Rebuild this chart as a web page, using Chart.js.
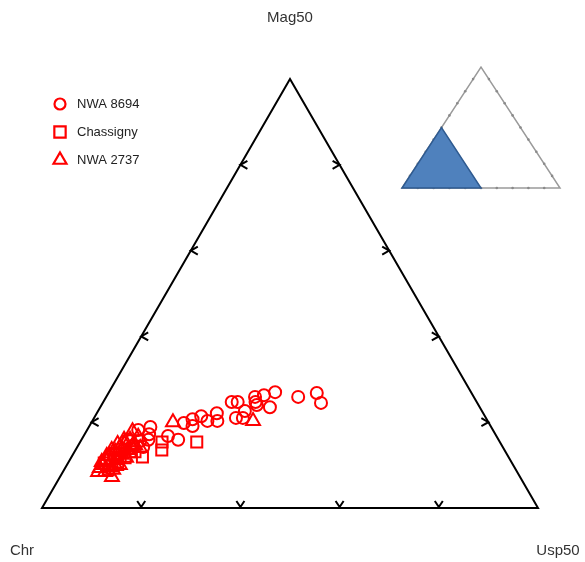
<!DOCTYPE html>
<html>
<head>
<meta charset="utf-8">
<script src="https://cdn.jsdelivr.net/npm/chart.js@4/dist/chart.umd.min.js"></script>
<style>
  html, body { margin: 0; padding: 0; background: #fff; }
  canvas { display: block; }
</style>
</head>
<body>
<canvas id="ternary" width="585" height="562"></canvas>
<script>
// Ternary compositions in percent: Mag50 and Usp50 given, Chr = 100 - Mag50 - Usp50
const nwa8694Mag = [27.0, 26.3, 25.9, 24.7, 25.9, 26.8, 24.5, 23.5, 24.0, 24.7, 24.7, 22.6, 21.0, 21.0, 22.1, 20.3, 20.3, 21.4, 20.7, 19.1, 19.8, 15.9, 16.8, 18.9, 17.2, 15.9, 15.6, 14.5, 13.5, 12.4, 14.2, 15.9, 18.2];
const nwa8694Usp = [33.5, 31.6, 30.0, 30.7, 38.7, 42.0, 44.0, 34.2, 31.3, 25.9, 27.1, 29.6, 28.6, 30.0, 24.2, 25.2, 23.2, 21.4, 20.0, 20.8, 18.7, 19.5, 17.0, 12.4, 13.0, 13.5, 12.0, 11.1, 9.9, 9.1, 13.3, 9.4, 10.3];

const chassignyMag = [15.4, 15.4, 13.5, 11.9, 11.7, 10.7, 9.8, 13.1, 8.9, 11.9, 10.5, 12.4, 13.1, 11.2];
const chassignyUsp = [23.5, 16.5, 17.4, 14.3, 10.9, 9.9, 9.2, 11.2, 8.9, 9.8, 7.3, 8.5, 12.2, 8.1];

const nwa2737Mag = [20.0, 20.3, 17.9, 7.2, 10.0, 9.3, 11.2, 12.1, 13.1, 14.0, 14.9, 15.9, 9.6, 11.2, 12.4, 13.5, 14.7, 16.6, 8.9, 10.0, 8.4, 14.0, 10.7, 12.1, 13.5, 14.9, 15.9, 8.4, 9.8, 11.7, 14.2];
const nwa2737Usp = [16.4, 32.4, 9.3, 10.5, 7.3, 7.0, 7.3, 7.6, 8.2, 8.7, 9.2, 9.8, 8.5, 9.3, 9.9, 10.5, 11.4, 11.1, 9.9, 10.7, 7.1, 12.8, 6.7, 7.0, 7.3, 7.8, 8.6, 8.5, 10.0, 11.1, 11.0];

const seriesNames = ['NWA 8694', 'Chassigny', 'NWA 2737'];
const cornerLabels = ['Chr', 'Usp50', 'Mag50'];
const edgeTicks = [20, 40, 60, 80];

const H = Math.sqrt(3) / 2;

// Project a (Mag, Usp) composition onto the equilateral triangle
function toXY(mag, usp) {
  return { x: usp + mag / 2, y: mag * H };
}
function points(mags, usps) {
  return mags.map((m, i) => toXY(m, usps[i]));
}

const RED = '#ff0000';

const ternaryFrame = {
  id: 'ternaryFrame',
  beforeDatasetsDraw(chart) {
    const { ctx, scales: { x, y } } = chart;
    const P = (mag, usp) => {
      const p = toXY(mag, usp);
      return [x.getPixelForValue(p.x), y.getPixelForValue(p.y)];
    };
    const A = P(0, 0), B = P(0, 100), C = P(100, 0);
    ctx.save();
    ctx.strokeStyle = '#000';
    ctx.lineWidth = 2;
    ctx.lineJoin = 'miter';
    ctx.beginPath();
    ctx.moveTo(A[0], A[1]);
    ctx.lineTo(B[0], B[1]);
    ctx.lineTo(C[0], C[1]);
    ctx.closePath();
    ctx.stroke();

    ctx.lineWidth = 2;
    edgeTicks.forEach(t => {
      // bottom edge: chevrons opening upward
      let [px, py] = P(0, t);
      ctx.beginPath();
      ctx.moveTo(px - 4, py - 7); ctx.lineTo(px, py - 1); ctx.lineTo(px + 4, py - 7);
      ctx.stroke();
      // left edge: chevrons pointing left
      [px, py] = P(t, 0);
      ctx.beginPath();
      ctx.moveTo(px + 7, py - 4); ctx.lineTo(px, py); ctx.lineTo(px + 7, py + 4);
      ctx.stroke();
      // right edge: chevrons pointing right
      [px, py] = P(t, 100 - t);
      ctx.beginPath();
      ctx.moveTo(px - 7, py - 4); ctx.lineTo(px, py); ctx.lineTo(px - 7, py + 4);
      ctx.stroke();
    });

    ctx.fillStyle = '#333';
    ctx.font = '15px "Liberation Sans", Arial, sans-serif';
    ctx.textAlign = 'center';
    ctx.textBaseline = 'middle';
    ctx.fillText(cornerLabels[0], A[0] - 20, A[1] + 43);
    ctx.fillText(cornerLabels[1], B[0] + 20, B[1] + 43);
    ctx.fillText(cornerLabels[2], C[0], C[1] - 61);
    ctx.restore();
  },
  afterDatasetsDraw(chart) {
    const { ctx } = chart;
    ctx.save();
    // legend
    chart.data.datasets.forEach((ds, i) => {
      const cy = 104 + i * 28;
      ctx.strokeStyle = RED;
      ctx.fillStyle = 'rgba(0,0,0,0)';
      ctx.lineWidth = 2.2;
      Chart.helpers.drawPoint(ctx, {
        pointStyle: ds.pointStyle,
        radius: [5.5, 8, 7.5][i],
        rotation: 0,
        borderWidth: 2.2
      }, 60, cy);
      ctx.fillStyle = '#222';
      ctx.font = '13px "Liberation Sans", Arial, sans-serif';
      ctx.textAlign = 'left';
      ctx.textBaseline = 'middle';
      ctx.fillText(ds.label, 77, cy);
    });

    // location inset: small triangle with the Chr-corner subfield shaded
    const L = 402, R = 560, T = 67, Bt = 188;
    const top = [(L + R) / 2, T];
    const at = (f, g) => [L + (R - L) * (g + f / 2), Bt - (Bt - T) * f]; // f: up fraction, g: right fraction
    ctx.strokeStyle = '#9a9a9a';
    ctx.lineWidth = 1.5;
    ctx.beginPath();
    ctx.moveTo(L, Bt); ctx.lineTo(R, Bt); ctx.lineTo(top[0], top[1]); ctx.closePath();
    ctx.stroke();
    ctx.fillStyle = '#8a8a8a';
    for (let k = 1; k < 10; k++) {
      const f = k / 10;
      const pts = [at(0, f), at(f, 0), at(f, 1 - f)];
      pts.forEach(p => { ctx.beginPath(); ctx.arc(p[0], p[1], 1.3, 0, Math.PI * 2); ctx.fill(); });
    }
    const b1 = at(0, 0), b2 = at(0, 0.5), b3 = at(0.5, 0);
    ctx.beginPath();
    ctx.moveTo(b1[0], b1[1]); ctx.lineTo(b2[0], b2[1]); ctx.lineTo(b3[0], b3[1]); ctx.closePath();
    ctx.fillStyle = '#4f81bd';
    ctx.fill();
    ctx.strokeStyle = '#2e5a90';
    ctx.lineWidth = 1.5;
    ctx.stroke();
    ctx.restore();
  }
};

const markerStyle = { borderColor: RED, backgroundColor: 'rgba(0,0,0,0)', borderWidth: 2, clip: false };

new Chart(document.getElementById('ternary'), {
  type: 'scatter',
  data: {
    datasets: [
      Object.assign({ label: seriesNames[0], data: points(nwa8694Mag, nwa8694Usp), pointStyle: 'circle', pointRadius: 6 }, markerStyle),
      Object.assign({ label: seriesNames[1], data: points(chassignyMag, chassignyUsp), pointStyle: 'rect', pointRadius: 7.8 }, markerStyle),
      Object.assign({ label: seriesNames[2], data: points(nwa2737Mag, nwa2737Usp), pointStyle: 'triangle', pointRadius: 8 }, markerStyle)
    ]
  },
  options: {
    responsive: false,
    animation: false,
    devicePixelRatio: 1,
    layout: { padding: { left: 42, right: 47, top: 79, bottom: 54 } },
    scales: {
      x: { type: 'linear', min: 0, max: 100, display: false },
      y: { type: 'linear', min: 0, max: 100 * H, display: false }
    },
    plugins: {
      legend: { display: false },
      tooltip: { enabled: false }
    }
  },
  plugins: [ternaryFrame]
});
</script>
</body>
</html>
